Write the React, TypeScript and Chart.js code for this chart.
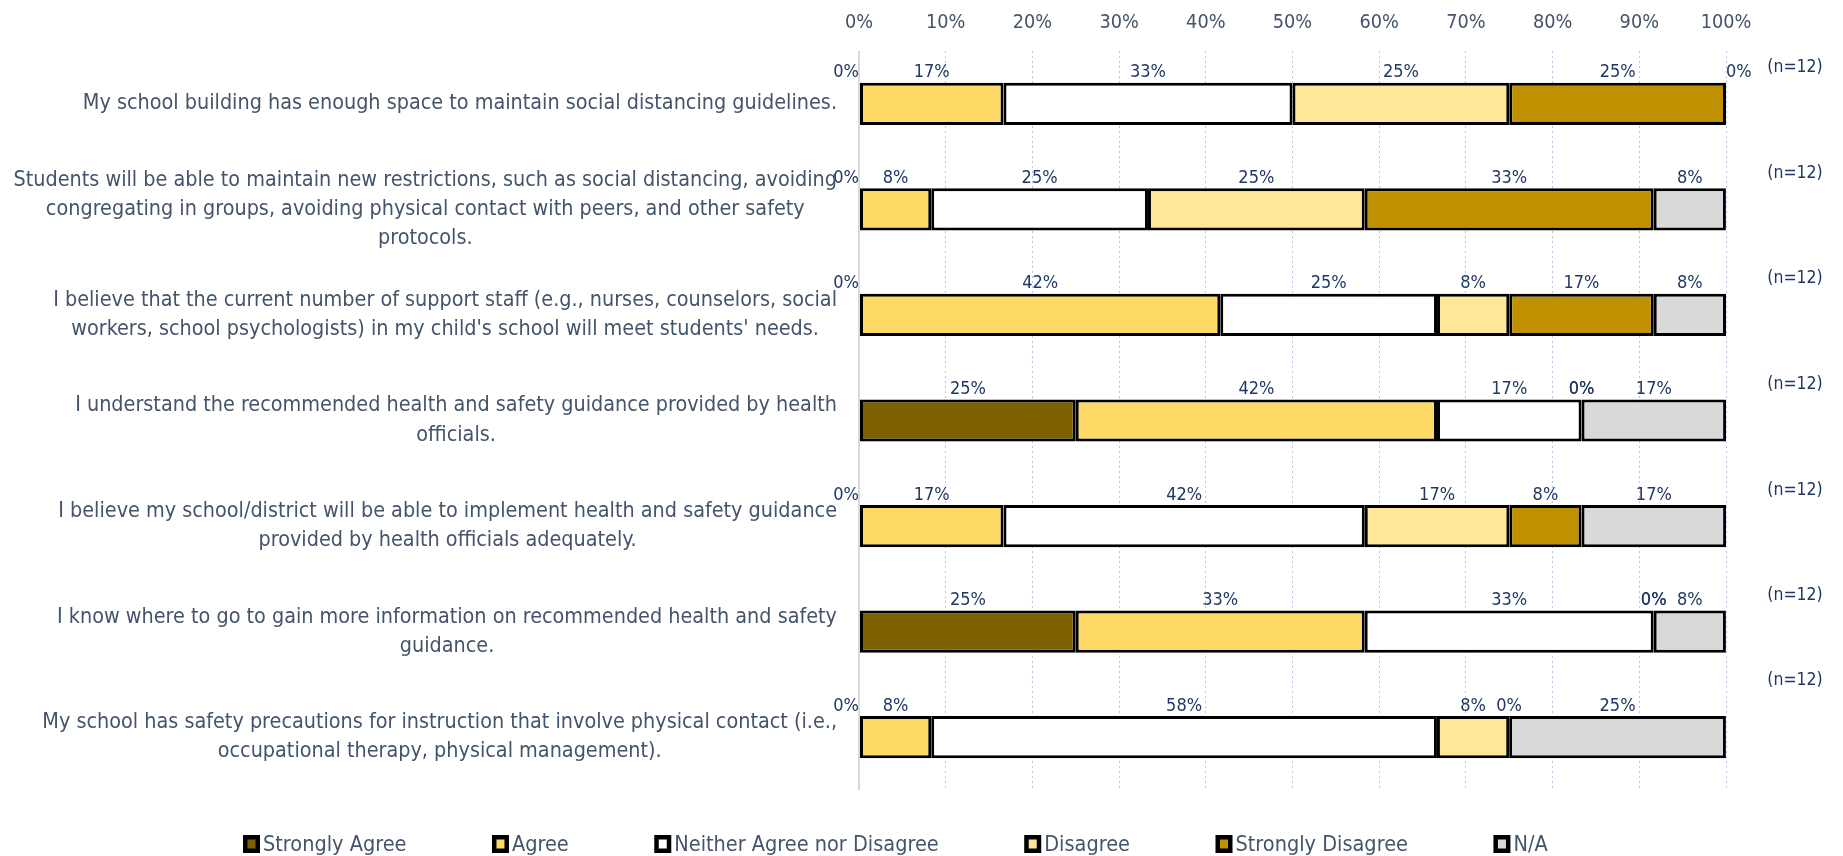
import { useEffect, useRef } from 'react';
import { Chart, registerables } from 'chart.js';

Chart.register(...registerables);

const FONT = '"Liberation Sans Narrow", "Arial Narrow", "DejaVu Sans Condensed", "Liberation Sans", sans-serif';

const categories: string[][] = [
  ['My school building has enough space to maintain social distancing guidelines.'],
  [
    'Students will be able to maintain new restrictions, such as social distancing, avoiding',
    'congregating in groups, avoiding physical contact with peers, and other safety',
    'protocols.',
  ],
  [
    'I believe that the current number of support staff (e.g., nurses, counselors, social',
    "workers, school psychologists) in my child's school will meet students' needs.",
  ],
  ['I understand the recommended health and safety guidance provided by health', 'officials.'],
  ['I believe my school/district will be able to implement health and safety guidance', 'provided by health officials adequately.'],
  ['I know where to go to gain more information on recommended health and safety', 'guidance.'],
  ['My school has safety precautions for instruction that involve physical contact (i.e.,', 'occupational therapy, physical management).'],
];

const sampleSizes = [12, 12, 12, 12, 12, 12, 12];

const seriesNames = ['Strongly Agree', 'Agree', 'Neither Agree nor Disagree', 'Disagree', 'Strongly Disagree', 'N/A'];
const stronglyAgree = [0, 0, 0, 25, 0, 25, 0];
const agree = [16.67, 8.33, 41.67, 41.67, 16.67, 33.33, 8.33];
const neither = [33.33, 25, 25, 16.67, 41.67, 33.33, 58.33];
const disagree = [25, 25, 8.33, 0, 16.67, 0, 8.33];
const stronglyDisagree = [25, 33.33, 16.67, 0, 8.33, 0, 0];
const notApplicable = [0, 8.33, 8.33, 16.67, 16.67, 8.33, 25];

const seriesColors = ['#7F6000', '#FFD966', '#FFFFFF', '#FFE699', '#BF9000', '#D9D9D9'];
const xTicks = [0, 10, 20, 30, 40, 50, 60, 70, 80, 90, 100];

const TEXT = '#44546A';
const LABEL = '#203864';

const customText = {
  id: 'customText',
  afterDatasetsDraw(chart: any) {
    const ctx = chart.ctx;
    const area = chart.chartArea;
    ctx.save();
    // data labels
    ctx.font = `18px ${FONT}`;
    ctx.fillStyle = LABEL;
    ctx.textBaseline = 'middle';
    chart.data.datasets.forEach((ds: any, i: number) => {
      const meta = chart.getDatasetMeta(i);
      meta.data.forEach((bar: any, j: number) => {
        const v = ds.data[j];
        const { x, y, base, height } = bar.getProps(['x', 'y', 'base', 'height'], true);
        const left = Math.min(x, base);
        const right = Math.max(x, base);
        let tx = (left + right) / 2;
        let align: CanvasTextAlign = 'center';
        if (v === 0 && left <= area.left + 0.5) {
          tx = left;
          align = 'right';
        } else if (v === 0 && right >= area.right - 0.5) {
          tx = right;
          align = 'left';
        }
        ctx.textAlign = align;
        ctx.fillText(Math.round(v) + '%', tx, y - height / 2 - 10);
      });
    });
    // sample sizes
    const meta0 = chart.getDatasetMeta(0);
    ctx.font = `17.5px ${FONT}`;
    ctx.textAlign = 'center';
    meta0.data.forEach((bar: any, j: number) => {
      const { y, height } = bar.getProps(['y', 'height'], true);
      const lift = j === meta0.data.length - 1 ? 36 : 15;
      ctx.fillText(`(n=${sampleSizes[j]})`, area.right + 69, y - height / 2 - lift);
    });
    // category labels
    const yScale = chart.scales.y;
    ctx.font = `21.4px ${FONT}`;
    ctx.fillStyle = TEXT;
    const lh = 29.4;
    const rightEdge = area.left - 22;
    categories.forEach((lines, j) => {
      const cy = yScale.getPixelForValue(j);
      const w = Math.max(...lines.map((l) => ctx.measureText(l).width));
      const cx = rightEdge - w / 2;
      ctx.textAlign = 'center';
      lines.forEach((l, k) => {
        ctx.fillText(l, cx, cy + (k - (lines.length - 1) / 2) * lh);
      });
    });
    // legend
    ctx.font = `21.5px ${FONT}`;
    const boxW = 17;
    const boxH = 18;
    const gapBox = 3;
    const gapItem = 85.5;
    let lx = 243;
    const ly = 844;
    seriesNames.forEach((n, i) => {
      const top = ly - boxH / 2;
      ctx.fillStyle = '#000000';
      ctx.fillRect(lx, top, boxW, boxH);
      ctx.fillStyle = seriesColors[i];
      ctx.fillRect(lx + 4.5, top + 4.5, boxW - 9, boxH - 9);
      ctx.fillStyle = TEXT;
      ctx.textAlign = 'left';
      ctx.fillText(n, lx + boxW + gapBox, ly + 1);
      lx += boxW + gapBox + ctx.measureText(n).width + gapItem;
    });
    ctx.restore();
  },
};

export default function App() {
  const ref = useRef<HTMLCanvasElement | null>(null);
  useEffect(() => {
    document.body.style.margin = '0';
    document.body.style.overflow = 'hidden';
    const series = [stronglyAgree, agree, neither, disagree, stronglyDisagree, notApplicable];
    const chart = new Chart(ref.current as HTMLCanvasElement, {
      type: 'bar',
      data: {
        labels: categories.map((c) => c.join(' ')),
        datasets: series.map((d, i) => ({
          label: seriesNames[i],
          data: d,
          backgroundColor: seriesColors[i],
          borderColor: '#000000',
          borderWidth: 3,
          borderSkipped: false,
          categoryPercentage: 1,
          barPercentage: 0.4,
        })),
      },
      options: {
        animation: false,
        responsive: true,
        maintainAspectRatio: false,
        indexAxis: 'y',
        layout: { padding: { left: 859, right: 117, top: 0, bottom: 66 } },
        plugins: { legend: { display: false }, tooltip: { enabled: false } },
        scales: {
          x: {
            position: 'top',
            stacked: true,
            min: 0,
            max: 100,
            afterBuildTicks: (scale: any) => {
              scale.ticks = xTicks.map((v) => ({ value: v }));
            },
            afterFit: (scale: any) => {
              scale.height = 51;
            },
            ticks: {
              callback: (v: any) => v + '%',
              color: TEXT,
              font: { family: FONT, size: 19.7 },
              padding: 16,
            },
            grid: {
              drawTicks: false,
              color: (c: any) => (c.tick && c.tick.value === 0 ? '#D9D9D9' : '#B4C7E7'),
              lineWidth: (c: any) => (c.tick && c.tick.value === 0 ? 2 : 1),
            },
            border: {
              display: false,
              dash: (c: any) => (c.tick && c.tick.value === 0 ? [] : [2, 3]),
            },
          },
          y: {
            stacked: true,
            display: false,
          },
        },
      },
      plugins: [customText],
    });
    return () => chart.destroy();
  }, []);
  return (
    <div style={{ width: '1843px', height: '856px', position: 'relative' }}>
      <canvas ref={ref} />
    </div>
  );
}
